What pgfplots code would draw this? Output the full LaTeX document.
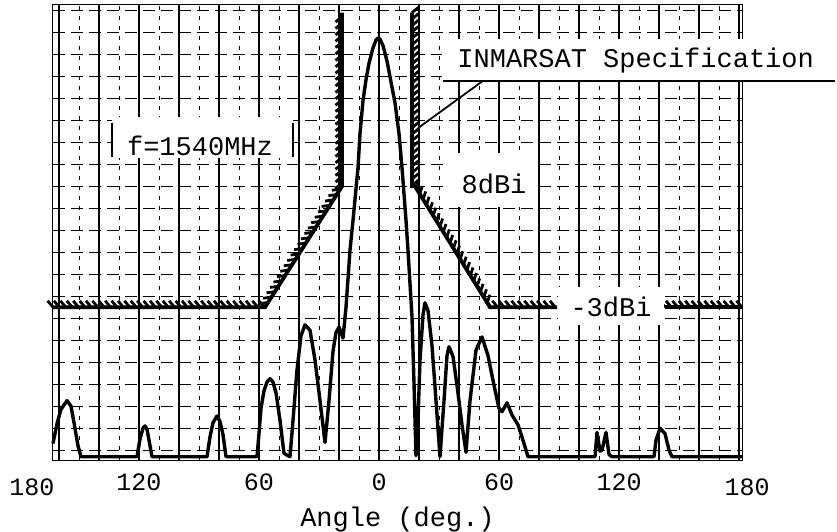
\documentclass[border=0pt]{standalone}
\usepackage{pgfplots}
\pgfplotsset{compat=1.18}
\usepackage{fontspec}
\setmainfont{Liberation Mono}
\usetikzlibrary{decorations.pathreplacing}

\tikzset{mask/.style={black, line width=1.9bp, line join=miter,
    postaction={draw, line width=1.4bp, decorate,
        decoration={border, segment length=3.2bp, amplitude=-4.2bp, angle=-50}}}}

\begin{document}
\begin{tikzpicture}
\useasboundingbox (-26.5bp,-36bp) rectangle (392bp,230bp);
\begin{axis}[
    at={(0,0)}, anchor=south west,
    scale only axis,
    width=344.5bp, height=227.5bp,
    xmin=-163, xmax=181.5,
    ymin=-16.9, ymax=24.5,
    clip=false,
    axis line style={black, line width=0.5bp},
    xtick={-160,-140,...,180},
    xticklabels={},
    minor x tick num=1,
    ytick={-16,-14,...,24},
    yticklabels={},
    xmajorgrids, xminorgrids, ymajorgrids,
    x grid style={black, line width=0.6bp},
    minor x grid style={black, line width=0.4bp, dash pattern=on 2bp off 3bp},
    y grid style={black, line width=0.6bp, dash pattern=on 6bp off 3bp},
    major tick length=0pt, minor tick length=0pt,
    extra x ticks={-120,-60,0,60,120},
    extra x tick labels={120,60,0,60,120},
    extra x tick style={grid=none},
    /pgf/number format/assume math mode=true,
    xticklabel style={anchor=center, yshift=-11bp},
    tick label style={font=\fontsize{12.5bp}{14bp}\selectfont},
    xlabel={Angle (deg.)},
    x label style={at={(axis description cs:0.5,0)}, anchor=center, yshift=-30bp,
        font=\fontsize{13.5bp}{16bp}\selectfont},
]
% INMARSAT mask
\addplot[mask] coordinates {(-163,-3) (-57,-3) (-18.5,8) (-18.5,23.8)};
\addplot[mask] coordinates {(16.5,23.8) (16.5,8) (18,8) (55.5,-3) (89,-3)};
\addplot[mask] coordinates {(143,-3) (181.5,-3)};

% measured pattern
\addplot[black, line width=1.7bp, line join=round] coordinates {
(-163,-15.4) (-161,-13.6) (-159,-12.3) (-156,-11.5) (-154,-12.0) (-152.5,-13.5)
(-150.5,-15.6) (-149,-16.6) (-121,-16.6) (-119.5,-15.0) (-118,-14.0) (-117,-13.8)
(-116,-14.1) (-115,-15.1) (-113.5,-16.6) (-86,-16.6) (-84.5,-14.8) (-83,-13.5)
(-81,-12.9) (-79.5,-13.4) (-78,-14.6) (-76.5,-16.6) (-61,-16.6) (-60,-14.5)
(-59,-12.2) (-57.5,-10.6) (-56,-9.8) (-54.5,-9.5) (-53,-9.8) (-51.5,-10.8)
(-49.5,-13.3) (-47.5,-16.3) (-44.5,-16.6) (-43,-13.3) (-41,-8.7) (-39,-5.6)
(-37,-4.6) (-34.5,-5.1) (-32,-7.8) (-29.5,-11.5) (-27,-15.3) (-25,-11.5)
(-23,-7.0) (-21.5,-5.3) (-20,-4.8) (-18,-5.8) (-16.5,-3.0) (-14.5,2.2)
(-13,4.9) (-10.5,9.7) (-9.5,12.8) (-8,15.8) (-6.5,17.7) (-5,19.2) (-3,20.6)
(-1.5,21.3) (-0.5,21.5) (0.5,21.4) (2,20.8) (4,19.4) (6,17.5) (8,15.6)
(10,12.8) (11.5,9.7) (13.5,4.9) (14.5,2.2)
(16.5,-3.9) (17.5,-9.9) (18.5,-16.5) (19.5,-13.3) (20.5,-7.8) (22,-3.7)
(23,-2.6) (24.5,-3.3) (26.5,-6.5) (28.5,-11.5) (30.5,-16.6) (32.5,-11.5)
(34,-7.4) (35,-6.6) (36,-7.0) (37,-7.5) (39,-10.1) (41.5,-13.7) (43.5,-16.2)
(45.5,-11.5) (48.5,-6.9) (51.5,-5.7) (54.5,-7.4) (57.5,-10.1) (60,-12.2)
(61.5,-12.5) (64,-11.7) (66.5,-12.8) (69.5,-13.7) (72,-15.1) (74.5,-16.6)
(108,-16.6) (109,-14.4) (110.5,-16.1) (111.5,-16.0) (113.5,-14.4) (115,-16.4)
(116.5,-16.6) (137.5,-16.6) (138.5,-15.1) (140.5,-14.0) (143,-14.5) (145,-16.0)
(146.5,-16.6) (181.5,-16.6)
};

% labels
\fill[white] (axis cs:31.5,21.4) rectangle (axis cs:229,17.6);
\node[anchor=base west, inner sep=0pt, font=\fontsize{13.5bp}{16bp}\selectfont]
    at (axis cs:39,18.8) {INMARSAT Specification};
\draw[line width=0.9bp] (axis cs:32,17.6) -- (axis cs:228,17.6);
\draw[line width=0.9bp] (axis cs:52,17.6) -- (axis cs:19.5,13.3);

\fill[white] (axis cs:-133.5,14.3) rectangle (axis cs:-43,10.6);
\draw[line width=0.8bp] (axis cs:-133.5,13.8) -- (axis cs:-133.5,10.7);
\draw[line width=0.8bp] (axis cs:-43,13.8) -- (axis cs:-43,10.7);
\node[font=\fontsize{13.5bp}{16bp}\selectfont] at (axis cs:-89.5,11.7) {f=1540MHz};

\fill[white] (axis cs:34,11) rectangle (axis cs:79,6.1);
\node[font=\fontsize{13.5bp}{16bp}\selectfont] at (axis cs:57.5,8.2) {8dBi};

\fill[white] (axis cs:89.5,-1.2) rectangle (axis cs:142.5,-4.6);
\node[font=\fontsize{13.5bp}{16bp}\selectfont] at (axis cs:116,-3) {-3dBi};

\node[font=\fontsize{12.5bp}{14bp}\selectfont, yshift=-13.5bp] at (axis cs:-173.5,-16.9) {180};
\node[font=\fontsize{12.5bp}{14bp}\selectfont, yshift=-13.5bp] at (axis cs:184,-16.9) {180};
\end{axis}
\end{tikzpicture}
\end{document}
